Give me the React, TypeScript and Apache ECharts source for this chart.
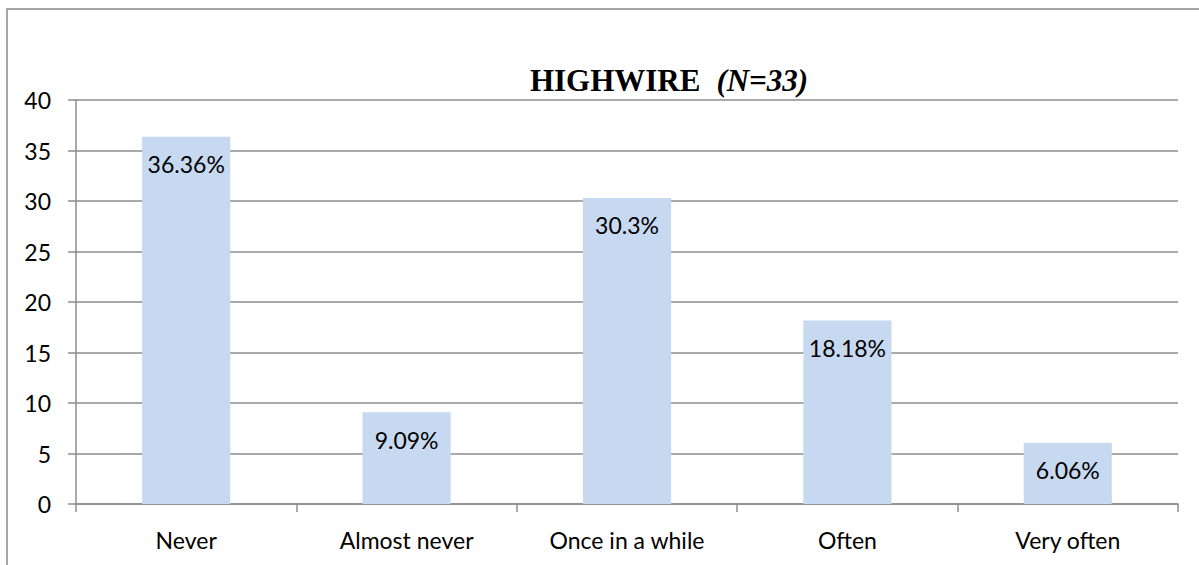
import React, { useEffect, useRef } from "react";
import * as echarts from "echarts";

const categories = ["Never", "Almost never", "Once in a while", "Often", "Very often"];
const values = [36.36, 9.09, 30.3, 18.18, 6.06];
const yTicks = [0, 5, 10, 15, 20, 25, 30, 35, 40];

export default function App() {
  const ref = useRef<HTMLDivElement>(null);
  useEffect(() => {
    const chart = echarts.init(ref.current!, null, { renderer: "svg" });
    chart.setOption({
      animation: false,
      backgroundColor: "#ffffff",
      graphic: [
        {
          type: "rect",
          shape: { x: 7, y: 9, width: 1210, height: 580 },
          style: { fill: "none", stroke: "#8c8c8c", lineWidth: 1.5 },
          silent: true,
        },
        {
          type: "text",
          x: 669,
          y: 80,
          style: {
            text: "{b|HIGHWIRE}{s| }{i|(N=33)}",
            align: "center",
            verticalAlign: "middle",
            rich: {
              b: { fontFamily: "Liberation Serif", fontWeight: "bold", fontSize: 31, fill: "#000" },
              s: { fontFamily: "Liberation Serif", fontSize: 31, width: 16 },
              i: { fontFamily: "Liberation Serif", fontWeight: "bold", fontStyle: "italic", fontSize: 31, fill: "#000" },
            },
          },
        },
      ],
      grid: { left: 76, right: 21, top: 100, bottom: 61, containLabel: false },
      xAxis: {
        type: "category",
        data: categories,
        axisLine: { lineStyle: { color: "#8c8c8c", width: 1.5 } },
        axisTick: { show: true, length: 8, alignWithLabel: false, lineStyle: { color: "#8c8c8c", width: 1.5 } },
        axisLabel: { color: "#000", fontFamily: "Lato", fontSize: 23, margin: 24 },
      },
      yAxis: {
        type: "value",
        min: yTicks[0],
        max: yTicks[yTicks.length - 1],
        interval: 5,
        axisLine: { show: true, lineStyle: { color: "#8c8c8c", width: 1.5 } },
        axisTick: { show: true, length: 8, lineStyle: { color: "#8c8c8c", width: 1.5 } },
        splitLine: { show: true, lineStyle: { color: "#8c8c8c", width: 1.5 } },
        axisLabel: { color: "#000", fontFamily: "Lato", fontSize: 23, margin: 25 },
      },
      series: [
        {
          type: "bar",
          data: values,
          barWidth: "40%",
          itemStyle: { color: "#c6d9f1" },
          label: {
            show: true,
            position: "insideTop",
            distance: 16,
            formatter: (p: any) => p.value + "%",
            color: "#000",
            fontFamily: "Lato",
            fontSize: 23,
          },
        },
      ],
    });
    return () => chart.dispose();
  }, []);
  return (
    <div
      ref={ref}
      style={{ position: "absolute", left: 0, top: 0, width: 1199, height: 565 }}
    />
  );
}
